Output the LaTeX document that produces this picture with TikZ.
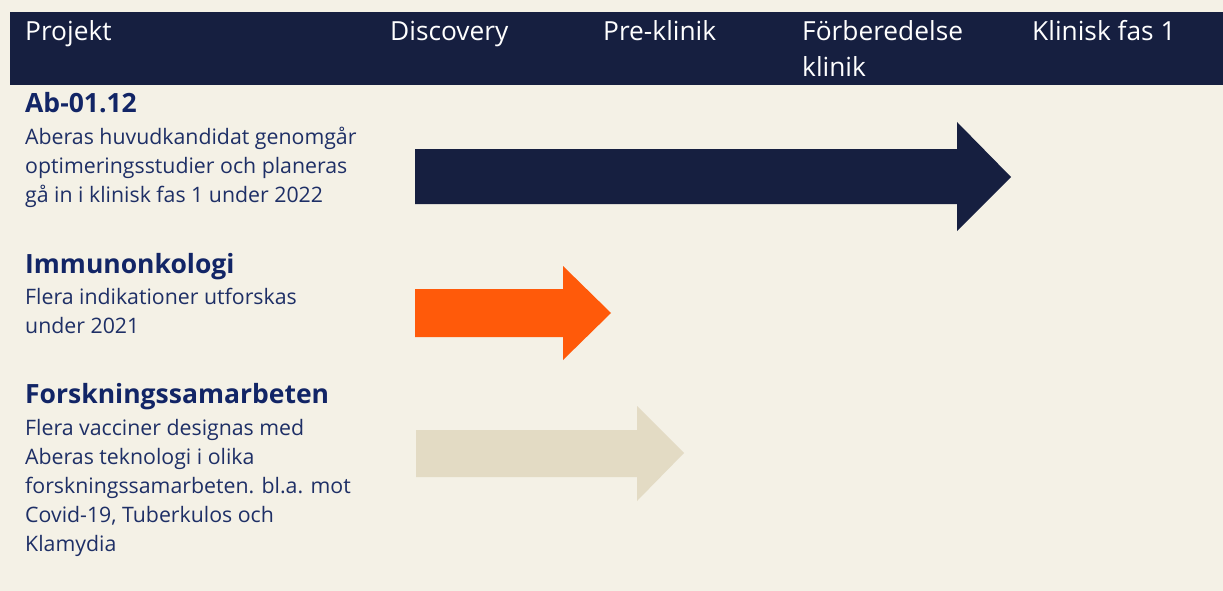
\documentclass[tikz,border=0pt]{standalone}
\usepackage{fontspec}
\setmainfont{Open Sans}
\definecolor{bg}{HTML}{F4F1E6}
\definecolor{navy}{HTML}{161F40}
\definecolor{titlec}{HTML}{122566}
\definecolor{bodyc}{HTML}{1E2F66}
\definecolor{orangec}{HTML}{FF5A0A}
\definecolor{beige}{HTML}{E3DBC4}
\tikzset{
  head/.style={anchor=base west,inner sep=0pt,text=white,align=left,font=\fontsize{26.3}{36}\selectfont},
  ttl/.style={anchor=base west,inner sep=0pt,text=titlec,font=\bfseries\fontsize{26.5}{30}\selectfont},
  desc/.style={anchor=base west,inner sep=0pt,text=bodyc,align=left,font=\fontsize{21.3}{29}\selectfont},
}
\begin{document}
\begin{tikzpicture}[x=1pt,y=-1pt]
\fill[bg] (0,0) rectangle (1223,591);
\useasboundingbox (0,0) rectangle (1223,591);
\fill[navy] (10,12) rectangle (1223,85);
% base anchor of a multi-line node = baseline of its last line
\node[head] (h1) at (25,41) {Projekt};
\node[head] (h2) at (390,41) {Discovery};
\node[head] (h3) at (603,41) {Pre-klinik};
\node[head] (h4) at (802,77) {Förberedelse\\klinik};
\node[head] (h5) at (1032,41) {Klinisk fas 1};
\node[ttl] (t1) at (25,113) {Ab-01.12};
\node[desc] (d1) at (25,202) {Aberas huvudkandidat genomgår\\optimeringsstudier och planeras\\gå in i klinisk fas 1 under 2022};
\node[ttl] (t2) at (25,273) {Immunonkologi};
\node[desc] (d2) at (25,333) {Flera indikationer utforskas\\under 2021};
\node[ttl] (t3) at (25,403) {Forskningssamarbeten};
\node[desc] (d3) at (25,551) {Flera vacciner designas med\\Aberas teknologi i olika\\forskningssamarbeten. bl.a. mot\\Covid-19, Tuberkulos och\\Klamydia};
\fill[navy] (415,149) -- (957,149) -- (957,122) -- (1011,177) -- (957,231) -- (957,204) -- (415,204) -- cycle;
\fill[orangec] (415,289) -- (563,289) -- (563,266) -- (611,313) -- (563,360) -- (563,337) -- (415,337) -- cycle;
\fill[beige] (416,430) -- (637,430) -- (637,406) -- (684,453) -- (637,501) -- (637,477) -- (416,477) -- cycle;
\end{tikzpicture}
\end{document}
